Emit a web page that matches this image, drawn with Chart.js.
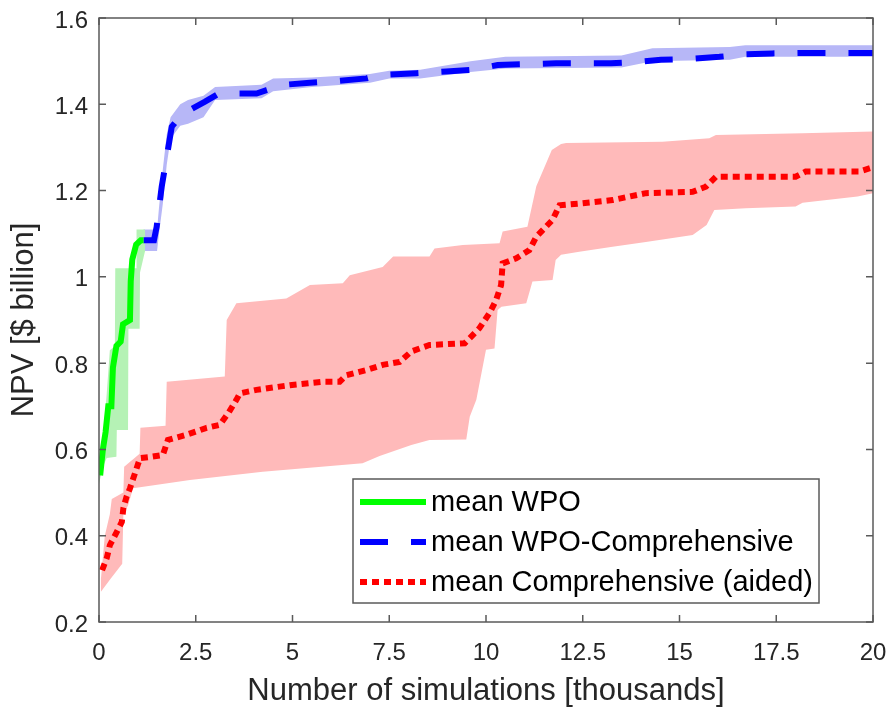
<!DOCTYPE html>
<html>
<head>
<meta charset="utf-8">
<script src="https://cdn.jsdelivr.net/npm/chart.js@4.4.1/dist/chart.umd.min.js"></script>
<style>
  body { margin: 0; background: #fff; }
</style>
</head>
<body>
<canvas id="myChart" width="893" height="710"></canvas>
<script>
// x in thousands of simulations, y in $ billion
const wpoMean = [[0.03,0.54],[0.1,0.60],[0.17,0.64],[0.24,0.70],[0.32,0.70],[0.36,0.79],[0.45,0.84],[0.56,0.85],
  [0.62,0.89],[0.8,0.90],[0.82,0.99],[0.86,1.04],[0.96,1.075],[1.08,1.085],[1.15,1.085]];
const wpoUpper = [[0,0.56],[0.1,0.62],[0.2,0.73],[0.28,0.83],[0.41,0.84],[0.42,1.02],[0.96,1.02],[0.97,1.11],[1.19,1.11]];
const wpoLower = [[0,0.52],[0.1,0.56],[0.2,0.58],[0.45,0.583],[0.46,0.645],[0.75,0.645],[0.76,0.88],[1.05,0.88],
  [1.06,1.01],[1.19,1.06]];

const combMean = [[1.15,1.085],[1.42,1.085],[1.49,1.116],[1.62,1.209],[1.78,1.294],[1.88,1.348],[2.09,1.371],
  [2.35,1.387],[2.74,1.406],[3.04,1.422],[3.38,1.425],[4.07,1.425],[4.33,1.433],[4.75,1.445],[5.45,1.45],
  [6.13,1.454],[6.91,1.46],[7.25,1.468],[8.2,1.472],[8.97,1.476],[9.65,1.48],[10.3,1.491],[11.04,1.493],
  [11.81,1.495],[13.23,1.495],[13.87,1.498],[14.52,1.503],[15.25,1.505],[16.03,1.51],[16.67,1.516],
  [17.4,1.518],[18.09,1.519],[20,1.519]];
const combUpper = [[1.15,1.11],[1.5,1.11],[1.55,1.16],[1.65,1.25],[1.75,1.33],[1.85,1.37],[2.1,1.40],[2.3,1.41],
  [2.7,1.42],[3.0,1.44],[4.2,1.445],[4.5,1.46],[5.5,1.462],[7,1.47],[7.5,1.478],[8.3,1.48],[9.6,1.50],
  [10.5,1.51],[13.5,1.513],[14.3,1.53],[16.3,1.533],[16.7,1.537],[20,1.537]];
const combLower = [[1.15,1.06],[1.5,1.06],[1.55,1.10],[1.65,1.17],[1.75,1.26],[1.85,1.32],[2.1,1.35],[2.3,1.355],
  [2.7,1.37],[3.0,1.41],[4.2,1.414],[4.5,1.43],[5.5,1.44],[7,1.45],[7.5,1.46],[8.3,1.46],[9.6,1.475],
  [10.5,1.483],[13.5,1.485],[14.3,1.50],[16.3,1.503],[16.7,1.51],[20,1.51]];

const aidedMean = [[0.08,0.32],[0.2,0.348],[0.28,0.378],[0.46,0.409],[0.59,0.432],[0.63,0.464],[0.71,0.49],
  [0.8,0.51],[0.93,0.545],[1.06,0.58],[1.36,0.583],[1.65,0.587],[1.78,0.622],[2.26,0.634],[2.78,0.65],
  [3.12,0.657],[3.34,0.684],[3.55,0.715],[3.64,0.73],[4.07,0.738],[4.93,0.749],[5.78,0.757],[6.22,0.757],
  [6.39,0.772],[6.91,0.784],[7.33,0.796],[7.77,0.803],[8.07,0.827],[8.54,0.842],[9.45,0.846],[9.83,0.881],
  [10.09,0.916],[10.26,0.946],[10.39,0.981],[10.43,1.031],[10.78,1.043],[11.12,1.062],[11.3,1.093],
  [11.72,1.132],[11.9,1.166],[12.41,1.17],[13.27,1.178],[14.13,1.194],[15.34,1.197],[15.68,1.209],
  [15.94,1.232],[18.0,1.232],[18.26,1.244],[19.64,1.244],[20,1.254]];
const aidedUpper = [[0.05,0.30],[0.15,0.40],[0.28,0.45],[0.33,0.485],[0.63,0.50],[0.65,0.56],[1.05,0.59],
  [1.07,0.65],[1.72,0.655],[1.75,0.757],[3.25,0.769],[3.3,0.9],[3.55,0.939],[4.84,0.95],[5.45,0.981],
  [6.3,0.985],[6.48,1.004],[7.33,1.023],[7.6,1.047],[8.54,1.047],[8.67,1.066],[9.4,1.074],[10.35,1.078],
  [10.43,1.105],[11.07,1.116],[11.3,1.21],[11.7,1.294],[11.94,1.308],[12.07,1.31],[14.56,1.313],
  [15.77,1.321],[15.94,1.329],[18.18,1.333],[20,1.337]];
const aidedLower = [[0.05,0.27],[0.3,0.30],[0.6,0.335],[0.63,0.45],[0.75,0.47],[0.88,0.51],[2.35,0.529],
  [4.23,0.548],[6.81,0.568],[7.25,0.585],[8.07,0.61],[8.54,0.622],[9.49,0.623],[9.58,0.676],[9.75,0.715],
  [10.0,0.831],[10.22,0.834],[10.3,0.923],[10.4,0.931],[11.04,0.939],[11.2,0.989],[11.72,0.993],[11.8,1.039],
  [11.94,1.051],[12.41,1.058],[13.27,1.07],[14.13,1.081],[15.34,1.097],[15.7,1.12],[15.9,1.155],[16.71,1.159],
  [18.0,1.163],[18.18,1.172],[19.6,1.186],[20,1.194]];

const seriesNames = ['mean WPO', 'mean WPO-Comprehensive', 'mean Comprehensive (aided)'];
const xTicks = [0, 2.5, 5, 7.5, 10, 12.5, 15, 17.5, 20];
const yTicks = [0.2, 0.4, 0.6, 0.8, 1, 1.2, 1.4, 1.6];

const FONT = '"Liberation Sans", Arial, sans-serif';
const TEXT = '#262626';
const AXIS = '#5a5a5a';

const toPts = (arr) => arr.map(p => ({ x: p[0], y: p[1] }));
// closed polygon: upper edge forward, lower edge back
const band = (up, low, color) => ({
  data: toPts(up.concat(low.slice().reverse())),
  borderWidth: 0,
  backgroundColor: color,
  fill: 'shape',
  pointRadius: 0,
  order: 2
});
const meanLine = (arr, color, dash, label) => ({
  label: label,
  data: toPts(arr),
  borderColor: color,
  borderWidth: 6,
  borderDash: dash,
  borderCapStyle: 'butt',
  borderJoinStyle: 'miter',
  fill: false,
  pointRadius: 0,
  order: 1
});

const lines = [
  meanLine(wpoMean, '#00ff00', [], seriesNames[0]),
  meanLine(combMean, '#0000ff', [28, 23], seriesNames[1]),
  meanLine(aidedMean, '#ff0000', [7, 5], seriesNames[2])
];

const fmt = (v) => String(Number(v.toFixed(1)));

const boxPlugin = {
  id: 'matlabBox',
  afterDatasetsDraw(chart) {
    const { ctx, chartArea: a, scales } = chart;
    ctx.save();
    ctx.strokeStyle = AXIS;
    ctx.lineWidth = 1.5;
    ctx.strokeRect(a.left, a.top, a.right - a.left, a.bottom - a.top);
    ctx.beginPath();
    xTicks.forEach(v => {
      const px = scales.x.getPixelForValue(v);
      ctx.moveTo(px, a.bottom); ctx.lineTo(px, a.bottom - 7);
      ctx.moveTo(px, a.top); ctx.lineTo(px, a.top + 7);
    });
    yTicks.forEach(v => {
      const py = scales.y.getPixelForValue(v);
      ctx.moveTo(a.left, py); ctx.lineTo(a.left + 7, py);
      ctx.moveTo(a.right, py); ctx.lineTo(a.right - 7, py);
    });
    ctx.stroke();
    ctx.restore();
  },
  afterDraw(chart) {
    // legend box, lower right inside the axes
    const { ctx, chartArea: a } = chart;
    const w = 466, h = 124;
    const bx = a.right - 54 - w;
    const by = a.bottom - 19 - h;
    ctx.save();
    ctx.fillStyle = '#fff';
    ctx.fillRect(bx, by, w, h);
    ctx.strokeStyle = AXIS;
    ctx.lineWidth = 1.5;
    ctx.strokeRect(bx, by, w, h);
    ctx.font = '29px ' + FONT;
    ctx.textBaseline = 'middle';
    lines.forEach((ds, i) => {
      const ly = by + 23 + i * 40;
      ctx.setLineDash(ds.borderDash);
      ctx.lineCap = 'butt';
      ctx.strokeStyle = ds.borderColor;
      ctx.lineWidth = 6;
      ctx.beginPath();
      ctx.moveTo(bx + 7, ly);
      ctx.lineTo(bx + 73, ly);
      ctx.stroke();
      ctx.setLineDash([]);
      ctx.fillStyle = '#000';
      ctx.fillText(ds.label, bx + 78, ly + 1);
    });
    ctx.restore();
  }
};

window.onload = () => {
  const data = {
    datasets: [
      ...lines,
      band(wpoUpper, wpoLower, '#b5f2b5'),
      band(combUpper, combLower, '#b7b7f7'),
      band(aidedUpper, aidedLower, '#ffbaba')
    ]
  };

  new Chart(document.getElementById('myChart'), {
    type: 'line',
    data: data,
    options: {
      responsive: false,
      animation: false,
      devicePixelRatio: 1,
      layout: { autoPadding: false, padding: { top: 18, right: 20, left: 0, bottom: 0 } },
      plugins: { legend: { display: false }, tooltip: { enabled: false } },
      elements: { line: { tension: 0 } },
      scales: {
        x: {
          type: 'linear',
          min: 0,
          max: 20,
          grid: { display: false, drawTicks: false },
          border: { display: false },
          afterBuildTicks: (s) => { s.ticks = xTicks.map(v => ({ value: v })); },
          afterFit: (s) => { s.height = 88; s.paddingLeft = 0; s.paddingRight = 0; },
          ticks: { padding: 17, color: TEXT, font: { family: FONT, size: 24 }, maxRotation: 0, autoSkip: false, callback: fmt },
          title: {
            display: true,
            text: 'Number of simulations [thousands]',
            color: TEXT,
            font: { family: FONT, size: 31 },
            padding: { top: 0, bottom: 0 }
          }
        },
        y: {
          type: 'linear',
          min: 0.2,
          max: 1.6,
          grid: { display: false, drawTicks: false },
          border: { display: false },
          afterBuildTicks: (s) => { s.ticks = yTicks.map(v => ({ value: v })); },
          afterFit: (s) => { s.width = 99; s.paddingTop = 0; s.paddingBottom = 0; },
          ticks: { padding: 11, labelOffset: 3, color: TEXT, font: { family: FONT, size: 24 }, autoSkip: false, callback: fmt },
          title: {
            display: true,
            text: 'NPV [$ billion]',
            color: TEXT,
            font: { family: FONT, size: 31 },
            padding: { top: 6, bottom: 0 }
          }
        }
      }
    },
    plugins: [boxPlugin]
  });
};
</script>
</body>
</html>
